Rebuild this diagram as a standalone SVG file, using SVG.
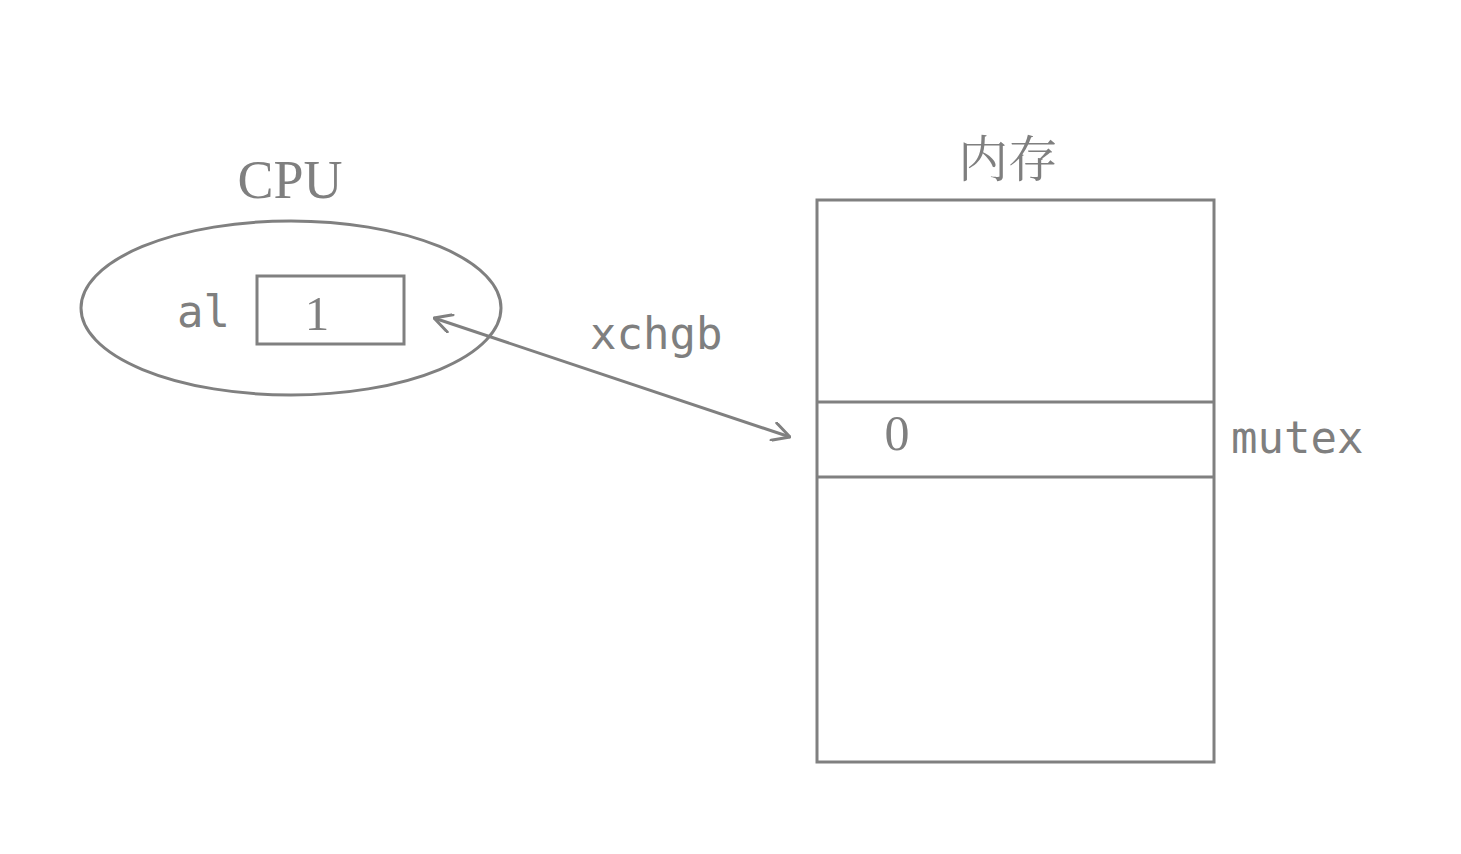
<svg xmlns="http://www.w3.org/2000/svg" width="1461" height="854" viewBox="0 0 1461 854">
<style>
.s{fill:none;stroke:#808080;stroke-width:3}
.serif{font-family:"Liberation Serif","Times New Roman",serif;fill:#7f7f7f}
.mono{font-family:"DejaVu Sans Mono","Liberation Mono",monospace;fill:#7f7f7f}
.cjk{font-family:"Noto Serif CJK SC","Noto Sans CJK SC",serif;fill:#7f7f7f}
</style>
<defs>
<marker id="arr" viewBox="0 0 20 20" refX="19" refY="10" markerWidth="20" markerHeight="20" markerUnits="userSpaceOnUse" orient="auto-start-reverse">
<path d="M2,1 L19,10 L2,19" fill="none" stroke="#808080" stroke-width="3" stroke-linecap="round" stroke-linejoin="round"/>
</marker>
</defs>
<rect width="1461" height="854" fill="#ffffff"/>
<g id="cpu">
<text class="serif" x="290" y="198" font-size="54" text-anchor="middle">CPU</text>
<ellipse class="s" cx="291" cy="308" rx="210" ry="87"/>
<text class="mono" x="177" y="327" font-size="44">al</text>
<rect class="s" x="257" y="276" width="147" height="68"/>
<text class="serif" x="317" y="330" font-size="49" text-anchor="middle">1</text>
</g>
<g id="memory">
<text class="cjk" x="1008" y="177" font-size="50" text-anchor="middle">内存</text>
<rect class="s" x="817" y="200" width="397" height="562"/>
<line class="s" x1="817" y1="402" x2="1214" y2="402"/>
<line class="s" x1="817" y1="477" x2="1214" y2="477"/>
<text class="serif" x="897" y="450" font-size="50" text-anchor="middle">0</text>
<text class="mono" x="1231" y="453" font-size="44">mutex</text>
</g>
<g id="connectors">
<line class="s" x1="434" y1="318" x2="790" y2="437" marker-start="url(#arr)" marker-end="url(#arr)"/>
<text class="mono" x="590" y="349" font-size="44">xchgb</text>
</g>
</svg>
